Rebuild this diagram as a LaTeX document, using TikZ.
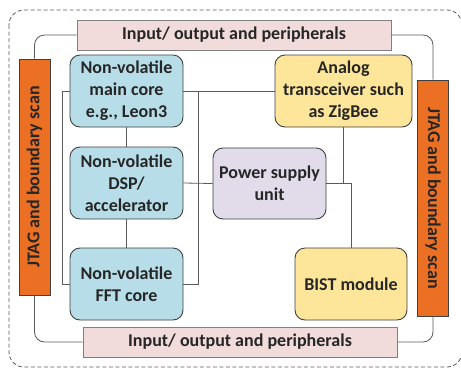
\documentclass[tikz,border=0pt]{standalone}
\usepackage{fontspec}
\setmainfont{Carlito}
\definecolor{coreblue}{HTML}{B7DEE8}
\definecolor{iopink}{HTML}{F2DCDB}
\definecolor{pwrlilac}{HTML}{E2DCEA}
\definecolor{anayellow}{HTML}{FDE59A}
\definecolor{jtagorange}{HTML}{EB7023}
\definecolor{edgegray}{HTML}{404040}
\definecolor{wiregray}{HTML}{5A5A5A}
\definecolor{txtdark}{HTML}{262626}

\begin{document}
\begin{tikzpicture}[x=1pt,y=-1pt,
  blk/.style={draw=edgegray,line width=0.9pt,rounded corners=10pt,inner sep=0pt,
    align=center,text=txtdark,font=\bfseries\fontsize{18}{22}\selectfont},
  iobar/.style={draw=gray,line width=0.9pt,fill=iopink,inner sep=0pt,minimum width=314pt,
    minimum height=30pt,text=txtdark,font=\bfseries\fontsize{18}{22}\selectfont},
  jtag/.style={draw=edgegray,line width=0.9pt,fill=jtagorange,inner sep=0pt,minimum width=236pt,
    minimum height=31pt,text=txtdark,font=\bfseries\fontsize{18}{22}\selectfont},
  wire/.style={draw=wiregray,line width=0.8pt}]
\useasboundingbox (0,0) rectangle (461,368);
\draw[wiregray,line width=0.8pt,dash pattern=on 4pt off 2.5pt,rounded corners=15pt] (9,10) rectangle (462,367);
\node[iobar] (ioTop) at (234,35) {Input/ output and peripherals};
\node[iobar] (ioBot) at (240,342) {Input/ output and peripherals};
\node[jtag,rotate=90] (jtagL) at (34.5,177) {JTAG and boundary scan};
\node[jtag,rotate=-90] (jtagR) at (433,198) {JTAG and boundary scan};
\node[blk,fill=coreblue,minimum width=113pt,minimum height=72pt] (main) at (126.5,91) {Non-volatile\\main core\\e.g., Leon3};
\node[blk,fill=coreblue,minimum width=113pt,minimum height=72pt] (dsp) at (126.5,183) {Non-volatile\\DSP/\\accelerator};
\node[blk,fill=coreblue,minimum width=113pt,minimum height=72pt] (fft) at (126.5,284) {Non-volatile\\FFT core};
\node[blk,fill=pwrlilac,minimum width=113pt,minimum height=71pt] (power) at (269.5,183.5) {Power supply\\unit};
\node[blk,fill=anayellow,minimum width=137pt,minimum height=72pt] (analog) at (343.5,91) {Analog\\transceiver such\\as ZigBee};
\node[blk,fill=anayellow,minimum width=112pt,minimum height=72pt] (bist) at (351,284) {BIST module};
\coordinate (busR) at (198,91);
\draw[wire,rounded corners=10pt] (ioTop.west) -| (jtagL.east);
\draw[wire,rounded corners=10pt] (jtagL.west) |- (ioBot.west);
\draw[wire,rounded corners=10pt] (ioTop.east) -| (jtagR.west);
\draw[wire,rounded corners=10pt] (jtagR.east) |- (ioBot.east);
\draw[wire] (main.south) -- (dsp.north);
\draw[wire] (dsp.south) -- (fft.north);
\draw[wire] (main.west) -- ++(-7,0) |- (fft.west);
\draw[wire] (main.east) -- (analog.west);
\draw[wire] (fft.east) -| (busR);
\draw[wire] (dsp.east) -- (power.west);
\draw[wire] (analog.south) -- (analog.south |- power.east);
\draw[wire] (power.east) -| (bist.north);
\end{tikzpicture}
\end{document}
